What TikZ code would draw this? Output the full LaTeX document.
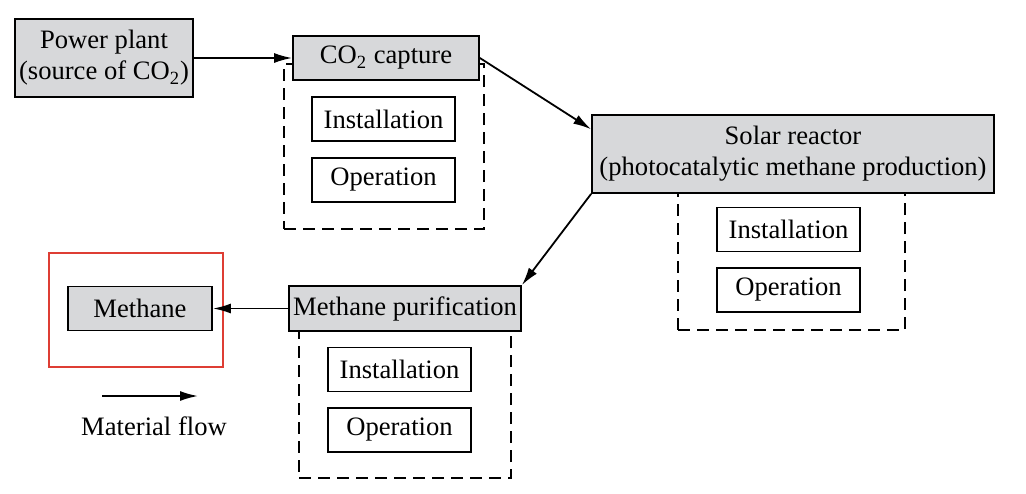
\documentclass[tikz,border=0pt]{standalone}
\usepackage{fontspec}
\setmainfont{Liberation Serif}
\usetikzlibrary{arrows.meta}
\definecolor{boxgray}{RGB}{215,216,218}
\definecolor{framered}{RGB}{222,62,52}

\begin{document}
\begin{tikzpicture}
  [ x=0.5pt, y=-0.5pt, >={Latex[length=9pt,width=5pt]},
    font=\rmfamily\fontsize{13.3}{15.5}\selectfont,
    every node/.style={inner sep=1pt, align=center},
    process/.style={draw, fill=boxgray, line width=0.9pt},
    task/.style={draw, fill=white, line width=0.9pt, minimum width=71.5pt, minimum height=22pt},
    group/.style={draw, dash pattern=on 6pt off 3.5pt, line width=0.9pt},
    flow/.style={->, line width=0.9pt}]
	\useasboundingbox (0,0) rectangle (1026,493);

	% dashed groups and the product frame
	\node [name=capgroup, group, minimum width=100pt, minimum height=82.5pt] at (384,146.5) {};
	\node [name=solgroup, group, minimum width=113.5pt, minimum height=70pt] at (791.5,260) {};
	\node [name=purgroup, group, minimum width=106pt, minimum height=79pt] at (405,399) {};
	\node [name=product, draw=framered, line width=0.9pt, minimum width=87pt, minimum height=57pt] at (136,310) {};

	% process steps
	\node [name=plant, process, minimum width=89pt, minimum height=39pt] at (104,58) {Power plant\\(source of CO\textsubscript{2})};
	\node [name=capture, process, minimum width=93pt, minimum height=22pt] at (386,58) {CO\textsubscript{2} capture};
	\node [name=solar, process, minimum width=201pt, minimum height=39pt] at (793,154) {Solar reactor\\(photocatalytic methane production)};
	\node [name=purif, process, minimum width=116pt, minimum height=22.5pt] at (405,308.5) {Methane purification};
	\node [name=methane, process, minimum width=72pt, minimum height=22pt] at (140,308.5) {Methane};

	\node [name=capinst, task] at (383.5,119) {Installation};
	\node [name=capop, task] at (383.5,180) {Operation};
	\node [name=solinst, task] at (788.5,229.5) {Installation};
	\node [name=solop, task] at (788.5,290) {Operation};
	\node [name=purinst, task] at (399.5,369.5) {Installation};
	\node [name=purop, task] at (399.5,430) {Operation};

	% legend
	\coordinate (keya) at (102,396);
	\coordinate (keyb) at (198,396);
	\node [name=keytext] at (154,426) {Material flow};

	\path [flow] (plant.east) edge (capture.west)
				(capture.east) edge (solar.173)
				(solar.south west) edge (purif.north east)
				(purif.west) edge (methane.east)
				(keya) edge (keyb);
\end{tikzpicture}
\end{document}
